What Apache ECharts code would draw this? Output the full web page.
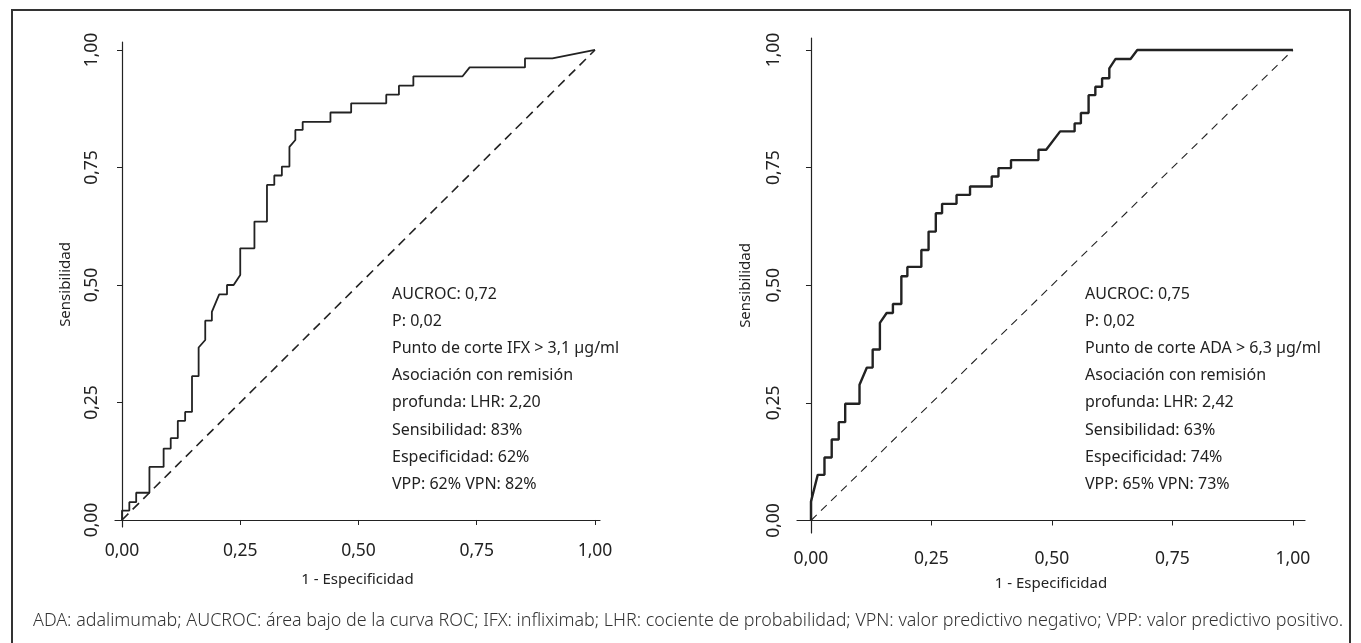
<!DOCTYPE html>
<html>
<head>
<meta charset="utf-8">
<script src="https://cdn.jsdelivr.net/npm/echarts@6/dist/echarts.min.js"></script>
<style>
  html, body { margin: 0; padding: 0; background: #fff; }
  #chart { width: 1361px; height: 643px; }
</style>
</head>
<body>
<div id="chart"></div>
<script>
// ===== Data =====
// IFX curve (left panel): step vertices, 1 - specificity / sensitivity
const ifxX = [0, 0, 0.0155, 0.0155, 0.03, 0.03, 0.058, 0.058, 0.088, 0.088, 0.103, 0.103, 0.118, 0.118,
  0.1335, 0.1335, 0.148, 0.148, 0.162, 0.162, 0.176, 0.176, 0.19, 0.19, 0.2055, 0.222, 0.222, 0.236, 0.25,
  0.25, 0.28, 0.28, 0.3065, 0.3065, 0.322, 0.322, 0.338, 0.338, 0.354, 0.354, 0.3665, 0.3665, 0.382, 0.382,
  0.4407, 0.4407, 0.4845, 0.4845, 0.5587, 0.5587, 0.5855, 0.5855, 0.616, 0.616, 0.72, 0.735, 0.852, 0.852,
  0.91, 1];
const ifxY = [0, 0.02, 0.02, 0.038, 0.038, 0.058, 0.058, 0.113, 0.113, 0.152, 0.152, 0.174, 0.174, 0.211,
  0.211, 0.23, 0.23, 0.306, 0.306, 0.367, 0.383, 0.424, 0.424, 0.443, 0.48, 0.48, 0.5, 0.5, 0.521,
  0.578, 0.578, 0.635, 0.635, 0.713, 0.713, 0.733, 0.733, 0.752, 0.752, 0.794, 0.8085, 0.83, 0.83, 0.847,
  0.847, 0.867, 0.867, 0.8865, 0.8865, 0.905, 0.905, 0.924, 0.924, 0.944, 0.944, 0.963, 0.963, 0.982,
  0.982, 1];

// ADA curve (right panel)
const adaX = [0, 0, 0.014, 0.028, 0.028, 0.043, 0.043, 0.0576, 0.0576, 0.071, 0.071, 0.1007, 0.1007, 0.116,
  0.128, 0.128, 0.143, 0.143, 0.157, 0.17, 0.17, 0.1875, 0.1875, 0.2, 0.2, 0.229, 0.229, 0.244, 0.244,
  0.259, 0.259, 0.272, 0.272, 0.302, 0.302, 0.33, 0.33, 0.375, 0.375, 0.389, 0.389, 0.415, 0.415, 0.472,
  0.472, 0.488, 0.517, 0.547, 0.547, 0.56, 0.56, 0.576, 0.576, 0.59, 0.59, 0.604, 0.604, 0.619, 0.619,
  0.632, 0.663, 0.677, 1];
const adaY = [0, 0.04, 0.097, 0.097, 0.134, 0.134, 0.172, 0.172, 0.209, 0.209, 0.248, 0.248, 0.2885, 0.325,
  0.325, 0.3635, 0.3635, 0.42, 0.441, 0.441, 0.46, 0.46, 0.519, 0.519, 0.539, 0.539, 0.575, 0.575, 0.614,
  0.614, 0.653, 0.653, 0.673, 0.673, 0.692, 0.692, 0.71, 0.71, 0.731, 0.731, 0.749, 0.749, 0.766, 0.766,
  0.788, 0.788, 0.827, 0.827, 0.844, 0.844, 0.866, 0.866, 0.904, 0.904, 0.922, 0.922, 0.94, 0.94, 0.961,
  0.981, 0.981, 1, 1];

const refLine = [[0, 0], [1, 1]];
const tickValues = [0, 0.25, 0.5, 0.75, 1];

const ifxNotes = ['AUCROC: 0,72', 'P: 0,02', 'Punto de corte IFX > 3,1 µg/ml', 'Asociación con remisión',
  'profunda: LHR: 2,20', 'Sensibilidad: 83%', 'Especificidad: 62%', 'VPP: 62% VPN: 82%'];
const adaNotes = ['AUCROC: 0,75', 'P: 0,02', 'Punto de corte ADA > 6,3 µg/ml', 'Asociación con remisión',
  'profunda: LHR: 2,42', 'Sensibilidad: 63%', 'Especificidad: 74%', 'VPP: 65% VPN: 73%'];

const footnote = 'ADA: adalimumab; AUCROC: área bajo de la curva ROC; IFX: infliximab; LHR: cociente de probabilidad; VPN: valor predictivo negativo; VPP: valor predictivo positivo.';

// ===== Helpers =====
const FONT = 'Noto Sans';
const INK = '#222';
const zip = (xs, ys) => xs.map((x, i) => [x, ys[i]]);
const fmt = v => v.toFixed(2).replace('.', ',');

function xAxis(idx, min, max, margin, nameGap){
  return {
    gridIndex: idx, type: 'value', min, max,
    name: '1 - Especificidad', nameLocation: 'middle', nameGap,
    nameTextStyle: { fontFamily: FONT, fontSize: 15, color: INK },
    axisLine: { lineStyle: { color: INK, width: 1.2 } },
    axisTick: { length: 5, lineStyle: { color: INK }, customValues: tickValues },
    axisLabel: { customValues: tickValues, formatter: fmt, margin, fontFamily: FONT, fontSize: 17.5, color: INK },
    splitLine: { show: false }
  };
}
function yAxis(idx, min, max, nameGap){
  return {
    gridIndex: idx, type: 'value', min, max,
    name: 'Sensibilidad', nameLocation: 'middle', nameGap, nameRotate: 90,
    nameTextStyle: { fontFamily: FONT, fontSize: 15, color: INK },
    axisLine: { lineStyle: { color: INK, width: 1.2 } },
    axisTick: { length: 5, lineStyle: { color: INK }, customValues: tickValues },
    axisLabel: { customValues: tickValues, formatter: fmt, rotate: 90, margin: 14, fontFamily: FONT, fontSize: 17.5, color: INK },
    splitLine: { show: false }
  };
}
function notes(lines, x){
  return lines.map((t, i) => ({
    type: 'text', left: x, top: 286 + i * 27.2,
    style: { text: t, fontFamily: FONT, fontSize: 16, fill: INK }
  }));
}

const chart = echarts.init(document.getElementById('chart'));
chart.setOption({
  animation: false,
  backgroundColor: '#fff',
  grid: [
    { left: 115, top: 42, width: 485, height: 485 },
    { left: 797, top: 38, width: 508, height: 495 }
  ],
  xAxis: [xAxis(0, -0.0148, 1.0106, 15, 45), xAxis(1, -0.029, 1.025, 17, 43)],
  yAxis: [yAxis(0, -0.0149, 1.017, 42), yAxis(1, -0.0266, 1.0255, 44)],
  series: [
    { type: 'line', xAxisIndex: 0, yAxisIndex: 0, data: zip(ifxX, ifxY), showSymbol: false,
      lineStyle: { color: INK, width: 1.8 } },
    { type: 'line', xAxisIndex: 0, yAxisIndex: 0, data: refLine, showSymbol: false,
      lineStyle: { color: INK, width: 1.6, type: [9, 6] } },
    { type: 'line', xAxisIndex: 1, yAxisIndex: 1, data: zip(adaX, adaY), showSymbol: false,
      lineStyle: { color: INK, width: 2.4 } },
    { type: 'line', xAxisIndex: 1, yAxisIndex: 1, data: refLine, showSymbol: false,
      lineStyle: { color: INK, width: 1.1, type: [8, 6] } }
  ],
  graphic: [
    { type: 'rect', shape: { x: 12, y: 10, width: 1338, height: 650 },
      style: { fill: 'none', stroke: '#333', lineWidth: 2 } },
    ...notes(ifxNotes, 392),
    ...notes(adaNotes, 1085),
    { type: 'text', left: 33, top: 612,
      style: { text: footnote, fontFamily: FONT, fontSize: 17.9, fontWeight: 300, fill: '#333' } }
  ]
});
</script>
</body>
</html>
